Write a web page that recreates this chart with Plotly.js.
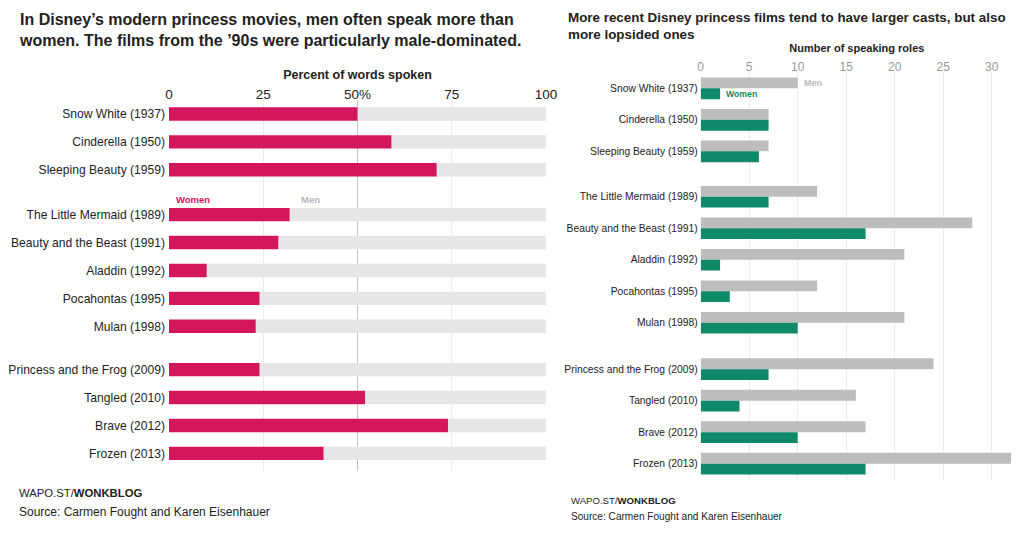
<!DOCTYPE html>
<html>
<head>
<meta charset="utf-8">
<script src="https://cdn.plot.ly/plotly-3.0.1.min.js"></script>
<style>
  html, body { margin: 0; padding: 0; background: #fff; }
  #chart { width: 1024px; height: 547px; }
</style>
</head>
<body>
<div id="chart"></div>
<script>
// films, split into the three eras shown as separate blocks
const era1 = ["Snow White (1937)", "Cinderella (1950)", "Sleeping Beauty (1959)"];
const era2 = ["The Little Mermaid (1989)", "Beauty and the Beast (1991)", "Aladdin (1992)", "Pocahontas (1995)", "Mulan (1998)"];
const era3 = ["Princess and the Frog (2009)", "Tangled (2010)", "Brave (2012)", "Frozen (2013)"];

// left chart: percent of words spoken by women
const womenWordsPct = [50, 59, 71, 32, 29, 10, 24, 23, 24, 52, 74, 41];
// right chart: number of speaking roles
const menRoles = [10, 7, 7, 12, 28, 21, 12, 21, 24, 16, 17, 32];
const womenRoles = [2, 7, 6, 7, 17, 2, 3, 10, 7, 4, 10, 17];

const pctTicks = [0, 25, 50, 75, 100];
const pctTickText = ["0", "25", "50%", "75", "100"];
const roleTicks = [0, 5, 10, 15, 20, 25, 30];

const W = 1024, H = 547;
const fx = p => p / W;
const fy = p => 1 - p / H;
const FONT = "Liberation Sans, Arial, sans-serif";

const CRIMSON = "#d4175c";
const LIGHT = "#e6e6e6";
const GREY = "#bdbdbd";
const GREEN = "#0f8a68";

const eras = [era1, era2, era3];
const starts = [0, era1.length, era1.length + era2.length];

// pixel extents of each era block (top, bottom)
const leftBlocks = [[100, 183.7], [200.7, 340.2], [355.7, 467.3]];
const rightBlocks = [[72.6, 167.1], [181, 338.5], [353.4, 479.4]];

const traces = [];
const layout = {
  width: W, height: H,
  margin: { l: 0, r: 0, t: 0, b: 0 },
  paper_bgcolor: "#fff",
  plot_bgcolor: "rgba(0,0,0,0)",
  showlegend: false,
  barmode: "overlay",
  font: { family: FONT, color: "#222" },
};

// left grid subplot
layout.xaxis = {
  domain: [fx(169), fx(546)], range: [0, 100], anchor: "y", side: "top",
  tickvals: pctTicks, ticktext: pctTickText, ticks: "", ticklabelstandoff: -3,
  tickfont: { size: 13.5, color: "#222" },
  showgrid: true, gridcolor: "#ececec", zeroline: false, showline: false,
  title: { text: "<b>Percent of words spoken</b>", font: { size: 12.5, color: "#222" }, standoff: 4 },
  fixedrange: true,
};
layout.yaxis = { domain: [fy(471), fy(100)], range: [0, 1], visible: false, fixedrange: true };
layout.xaxis6 = {
  overlaying: "x", matches: "x", anchor: "y", side: "top", domain: [fx(169), fx(546)],
  tickvals: [pctTicks[2]], showticklabels: false, ticks: "",
  showgrid: true, gridcolor: "#c4c4c4", zeroline: false,
};
traces.push({ type: "scatter", x: [], y: [], xaxis: "x", yaxis: "y", hoverinfo: "skip" });
traces.push({ type: "scatter", x: [], y: [], xaxis: "x6", yaxis: "y", hoverinfo: "skip" });

// right grid subplot
layout.xaxis2 = {
  domain: [fx(700.7), fx(1013)], range: [0, 32.2], anchor: "y2", side: "top",
  tickvals: roleTicks, ticks: "", ticklabelstandoff: -2,
  tickfont: { size: 12, color: "#999" },
  showgrid: true, gridcolor: "#ececec", zeroline: false, showline: false,
  title: { text: "<b>Number of speaking roles</b>", font: { size: 11, color: "#222" }, standoff: 4 },
  fixedrange: true,
};
layout.yaxis2 = { domain: [fy(480), fy(72)], range: [0, 1], visible: false, fixedrange: true };
traces.push({ type: "scatter", x: [], y: [], xaxis: "x2", yaxis: "y2", hoverinfo: "skip" });

eras.forEach((films, g) => {
  const s = starts[g];
  const n = films.length;
  const lx = 3 + g, rx = 7 + g;

  // left: women share plus the rest in grey
  const w = womenWordsPct.slice(s, s + n);
  layout["xaxis" + lx] = { domain: [fx(169), fx(546)], matches: "x", anchor: "y" + lx, visible: false, showgrid: false, zeroline: false };
  layout["yaxis" + lx] = {
    domain: [fy(leftBlocks[g][1]), fy(leftBlocks[g][0])], anchor: "x" + lx,
    type: "category", range: [n - 0.5, -0.5], ticks: "", ticklabelstandoff: 3,
    tickfont: { size: 12.1, color: "#222" }, showgrid: false, zeroline: false, fixedrange: true,
  };
  traces.push({
    type: "bar", orientation: "h", y: films, x: w.map(v => 100 - v), base: w,
    xaxis: "x" + lx, yaxis: "y" + lx, marker: { color: LIGHT }, width: 0.48, offset: -0.24,
    name: "Men", hoverinfo: "skip",
  });
  traces.push({
    type: "bar", orientation: "h", y: films, x: w,
    xaxis: "x" + lx, yaxis: "y" + lx, marker: { color: CRIMSON }, width: 0.48, offset: -0.24,
    name: "Women",
  });

  // right: speaking roles, men above women
  layout["xaxis" + rx] = { domain: [fx(700.7), fx(1013)], matches: "x2", anchor: "y" + rx, visible: false, showgrid: false, zeroline: false };
  layout["yaxis" + rx] = {
    domain: [fy(rightBlocks[g][1]), fy(rightBlocks[g][0])], anchor: "x" + rx,
    type: "category", range: [n - 0.5, -0.5], ticks: "", ticklabelstandoff: 2,
    tickfont: { size: 10.3, color: "#222" }, showgrid: false, zeroline: false, fixedrange: true,
  };
  traces.push({
    type: "bar", orientation: "h", y: films, x: menRoles.slice(s, s + n),
    xaxis: "x" + rx, yaxis: "y" + rx, marker: { color: GREY }, width: 0.345, offset: -0.345,
    name: "Men",
  });
  traces.push({
    type: "bar", orientation: "h", y: films, x: womenRoles.slice(s, s + n),
    xaxis: "x" + rx, yaxis: "y" + rx, marker: { color: GREEN }, width: 0.345, offset: 0,
    name: "Women",
  });
});

layout.annotations = [
  {
    xref: "paper", yref: "paper", x: fx(17), y: fy(30.5), xanchor: "left", yanchor: "middle", align: "left",
    text: "In Disney’s modern princess movies, men often speak more than<br>women. The films from the ’90s were particularly male-dominated.",
    font: { size: 16, weight: "bold", color: "#222" }, showarrow: false,
  },
  {
    xref: "paper", yref: "paper", x: fx(566), y: fy(26), xanchor: "left", yanchor: "middle", align: "left",
    text: "More recent Disney princess films tend to have larger casts, but also<br>more lopsided ones",
    font: { size: 13.4, weight: "bold", color: "#222" }, showarrow: false,
  },
  // in-chart legend labels
  {
    xref: "x", yref: "y4 domain", x: 0, y: 1, xshift: 5, yshift: 1, xanchor: "left", yanchor: "middle",
    text: "<b>Women</b>", font: { size: 9.5, color: CRIMSON }, showarrow: false,
  },
  {
    xref: "x", yref: "y4 domain", x: 34.5, y: 1, yshift: 1, xanchor: "left", yanchor: "middle",
    text: "<b>Men</b>", font: { size: 9.5, color: "#b5b5b5" }, showarrow: false,
  },
  {
    xref: "x7", yref: "y7", x: menRoles[0], y: era1[0], xshift: 4, yshift: 5.5, xanchor: "left", yanchor: "middle",
    text: "<b>Men</b>", font: { size: 9, color: "#bbb" }, showarrow: false,
  },
  {
    xref: "x7", yref: "y7", x: womenRoles[0], y: era1[0], xshift: 4, yshift: -5.5, xanchor: "left", yanchor: "middle",
    text: "<b>Women</b>", font: { size: 8.7, color: GREEN }, showarrow: false,
  },
  // footers
  {
    xref: "paper", yref: "paper", x: fx(17), y: fy(493), xanchor: "left", yanchor: "middle",
    text: "WAPO.ST/<b>WONKBLOG</b>", font: { size: 11.3, color: "#222" }, showarrow: false,
  },
  {
    xref: "paper", yref: "paper", x: fx(17), y: fy(512), xanchor: "left", yanchor: "middle",
    text: "Source: Carmen Fought and Karen Eisenhauer", font: { size: 12, color: "#222" }, showarrow: false,
  },
  {
    xref: "paper", yref: "paper", x: fx(569), y: fy(500), xanchor: "left", yanchor: "middle",
    text: "WAPO.ST/<b>WONKBLOG</b>", font: { size: 9.6, color: "#222" }, showarrow: false,
  },
  {
    xref: "paper", yref: "paper", x: fx(569), y: fy(516), xanchor: "left", yanchor: "middle",
    text: "Source: Carmen Fought and Karen Eisenhauer", font: { size: 10.1, color: "#222" }, showarrow: false,
  },
];

Plotly.newPlot("chart", traces, layout, { displayModeBar: false, staticPlot: true });
</script>
</body>
</html>
